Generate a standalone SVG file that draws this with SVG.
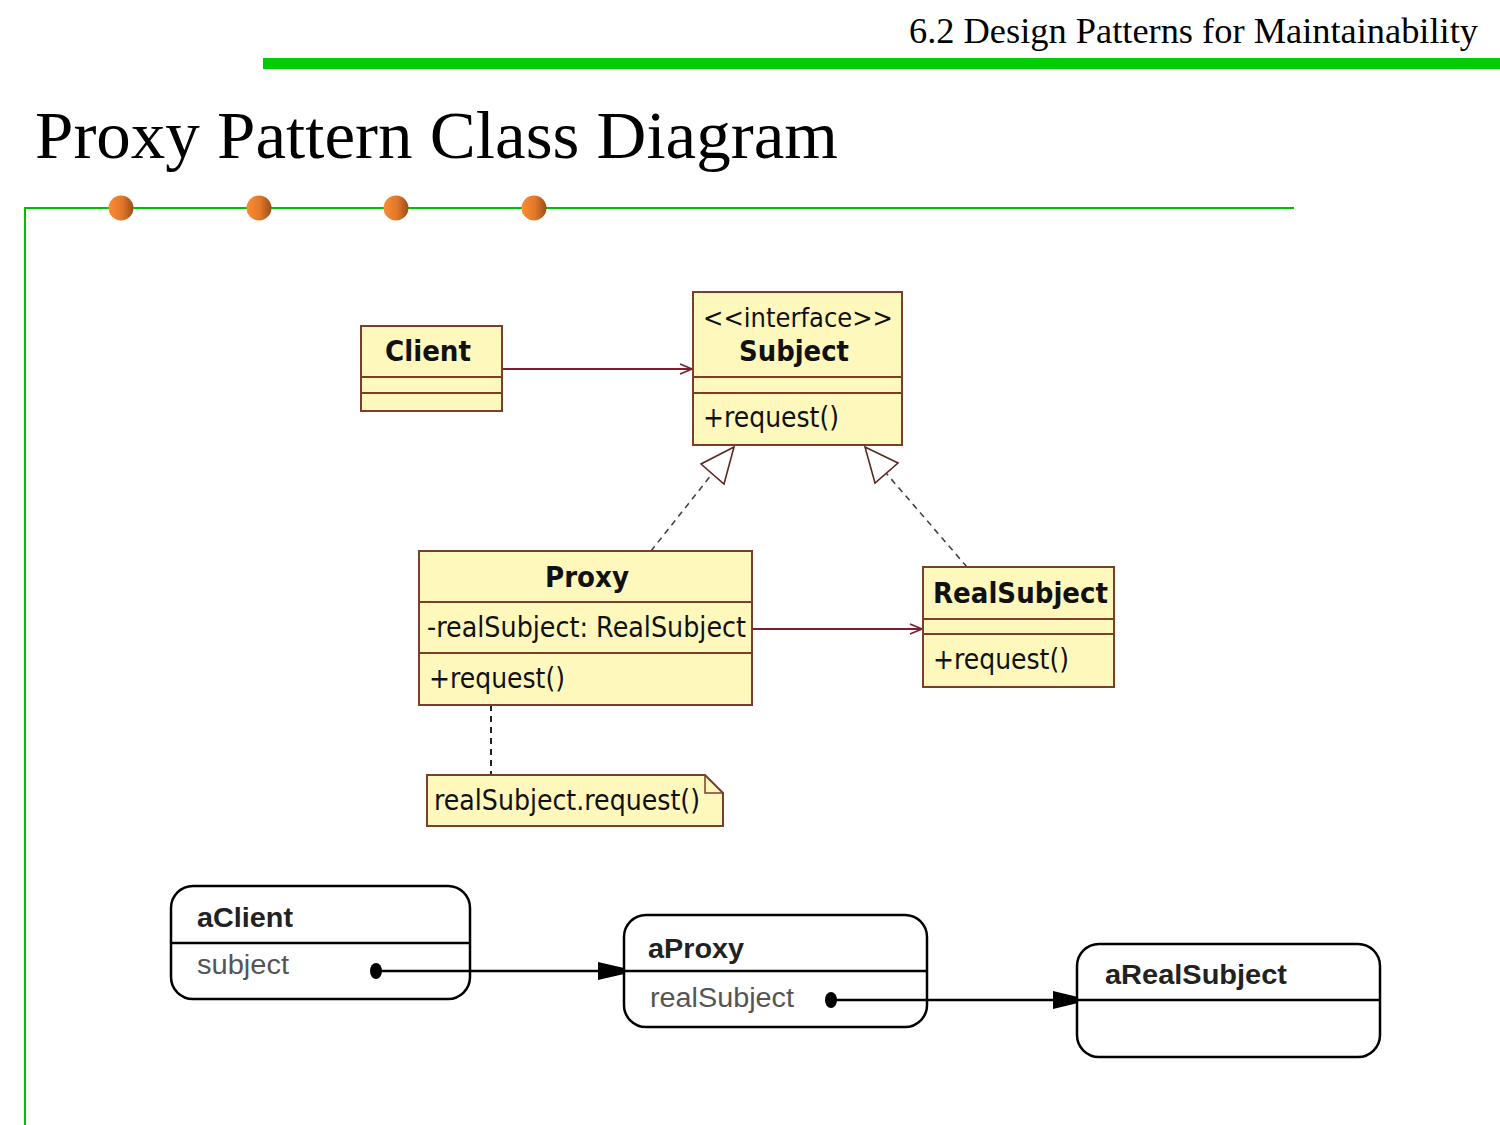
<svg xmlns="http://www.w3.org/2000/svg" width="1500" height="1125" viewBox="0 0 1500 1125">
<style>
.hdr{font-family:"Liberation Serif","DejaVu Serif",serif;fill:#000}
.cls{fill:#fff8bd;stroke:#7a3f2a;stroke-width:2}
.div{stroke:#7a3f2a;stroke-width:2}
.uml{font-family:"DejaVu Sans","Liberation Sans",sans-serif;fill:#111}
.b{font-weight:bold}
.assoc{stroke:#7a1f2b;stroke-width:2;fill:none}
.gen{stroke:#444;stroke-width:1.6;fill:none;stroke-dasharray:6 5}
.tri{fill:#fff;stroke:#5a2a20;stroke-width:1.6}
.obj{fill:none;stroke:#000;stroke-width:2.5}
.objl{stroke:#000;stroke-width:2.5}
.ot{font-family:"Liberation Sans",Arial,sans-serif;font-size:27px}
.on{fill:#222;font-weight:bold}
.oa{fill:#555}
</style>
<defs>
<linearGradient id="ball" x1="0" y1="0" x2="1" y2="0">
<stop offset="0" stop-color="#fb8c33"/>
<stop offset="0.55" stop-color="#e0772a"/>
<stop offset="1" stop-color="#9b4c1a"/>
</linearGradient>
<marker id="open" viewBox="0 0 14 12" refX="13" refY="6" markerWidth="14" markerHeight="12" markerUnits="userSpaceOnUse" orient="auto">
<path d="M1,1 L13,6 L1,11" fill="none" stroke="#7a1f2b" stroke-width="1.6"/>
</marker>
</defs>

<!-- header -->
<text class="hdr" x="1478" y="43" font-size="36" text-anchor="end" textLength="569" lengthAdjust="spacingAndGlyphs">6.2 Design Patterns for Maintainability</text>
<rect x="263" y="58" width="1237" height="11" fill="#00cc00"/>
<text class="hdr" x="35" y="158" font-size="68" textLength="803" lengthAdjust="spacingAndGlyphs">Proxy Pattern Class Diagram</text>
<line x1="24" y1="208" x2="1294" y2="208" stroke="#00c000" stroke-width="2"/>
<line x1="25" y1="207" x2="25" y2="1125" stroke="#00c000" stroke-width="2"/>
<circle cx="121" cy="208" r="12.5" fill="url(#ball)"/>
<circle cx="259" cy="208" r="12.5" fill="url(#ball)"/>
<circle cx="396" cy="208" r="12.5" fill="url(#ball)"/>
<circle cx="534" cy="208" r="12.5" fill="url(#ball)"/>

<!-- connectors -->
<g id="connectors">
<line class="assoc" x1="502" y1="369" x2="692" y2="369" marker-end="url(#open)"/>
<line class="assoc" x1="752" y1="629" x2="922" y2="629" marker-end="url(#open)"/>
<line class="gen" x1="651" y1="551" x2="712" y2="474"/>
<polygon class="tri" points="734,447 701,464 724,484"/>
<line class="gen" x1="967" y1="567" x2="886" y2="473"/>
<polygon class="tri" points="865,447 898,463 875,483"/>
<line x1="491" y1="705" x2="491" y2="775" stroke="#222" stroke-width="2" stroke-dasharray="6 5"/>
<line class="objl" x1="376" y1="971" x2="600" y2="971"/>
<polygon points="598,962 624,968 624,974 598,980" fill="#000"/>
<line class="objl" x1="831" y1="1000" x2="1055" y2="1000"/>
<polygon points="1053,991 1078,997 1078,1003 1053,1009" fill="#000"/>
</g>

<g id="client">
<rect class="cls" x="361" y="326" width="141" height="85"/>
<line class="div" x1="361" y1="377" x2="502" y2="377"/>
<line class="div" x1="361" y1="393" x2="502" y2="393"/>
<text class="uml b" x="428" y="361" font-size="28" text-anchor="middle" textLength="86" lengthAdjust="spacingAndGlyphs">Client</text>
</g>

<g id="subject">
<rect class="cls" x="693" y="292" width="209" height="153"/>
<line class="div" x1="693" y1="377" x2="902" y2="377"/>
<line class="div" x1="693" y1="393" x2="902" y2="393"/>
<text class="uml" x="798" y="327" font-size="27" text-anchor="middle" textLength="190" lengthAdjust="spacingAndGlyphs">&lt;&lt;interface&gt;&gt;</text>
<text class="uml b" x="794" y="361" font-size="28" text-anchor="middle" textLength="110" lengthAdjust="spacingAndGlyphs">Subject</text>
<text class="uml" x="703" y="427" font-size="28" textLength="136" lengthAdjust="spacingAndGlyphs">+request()</text>
</g>

<g id="proxy">
<rect class="cls" x="419" y="551" width="333" height="154"/>
<line class="div" x1="419" y1="602" x2="752" y2="602"/>
<line class="div" x1="419" y1="653" x2="752" y2="653"/>
<text class="uml b" x="587" y="587" font-size="28" text-anchor="middle" textLength="84" lengthAdjust="spacingAndGlyphs">Proxy</text>
<text class="uml" x="427" y="637" font-size="28" textLength="319" lengthAdjust="spacingAndGlyphs">-realSubject: RealSubject</text>
<text class="uml" x="429" y="688" font-size="28" textLength="136" lengthAdjust="spacingAndGlyphs">+request()</text>
</g>

<g id="realsubject">
<rect class="cls" x="923" y="567" width="191" height="120"/>
<line class="div" x1="923" y1="619" x2="1114" y2="619"/>
<line class="div" x1="923" y1="634" x2="1114" y2="634"/>
<text class="uml b" x="933" y="603" font-size="28" textLength="175" lengthAdjust="spacingAndGlyphs">RealSubject</text>
<text class="uml" x="933" y="669" font-size="28" textLength="136" lengthAdjust="spacingAndGlyphs">+request()</text>
</g>

<g id="note">
<path class="cls" d="M427,775 L705,775 L723,793 L723,826 L427,826 Z"/>
<path d="M705,775 L705,793 L723,793" fill="none" stroke="#7a3f2a" stroke-width="1.5"/>
<text class="uml" x="434" y="810" font-size="28" textLength="266" lengthAdjust="spacingAndGlyphs">realSubject.request()</text>
</g>

<g id="aclient">
<rect class="obj" x="171" y="886" width="299" height="113" rx="22"/>
<line class="objl" x1="171" y1="943" x2="470" y2="943"/>
<text class="ot on" x="197" y="927" textLength="96" lengthAdjust="spacingAndGlyphs">aClient</text>
<text class="ot oa" x="197" y="974" textLength="92" lengthAdjust="spacingAndGlyphs">subject</text>
<ellipse cx="376" cy="971" rx="6" ry="8" fill="#000"/>
</g>

<g id="aproxy">
<rect class="obj" x="624" y="915" width="303" height="112" rx="22"/>
<line class="objl" x1="624" y1="971" x2="927" y2="971"/>
<text class="ot on" x="648" y="958" textLength="96" lengthAdjust="spacingAndGlyphs">aProxy</text>
<text class="ot oa" x="650" y="1007" textLength="144" lengthAdjust="spacingAndGlyphs">realSubject</text>
<ellipse cx="831" cy="1000" rx="6" ry="8" fill="#000"/>
</g>

<g id="arealsubject">
<rect class="obj" x="1077" y="944" width="303" height="113" rx="22"/>
<line class="objl" x1="1077" y1="1000" x2="1380" y2="1000"/>
<text class="ot on" x="1105" y="984" textLength="182" lengthAdjust="spacingAndGlyphs">aRealSubject</text>
</g>
</svg>
